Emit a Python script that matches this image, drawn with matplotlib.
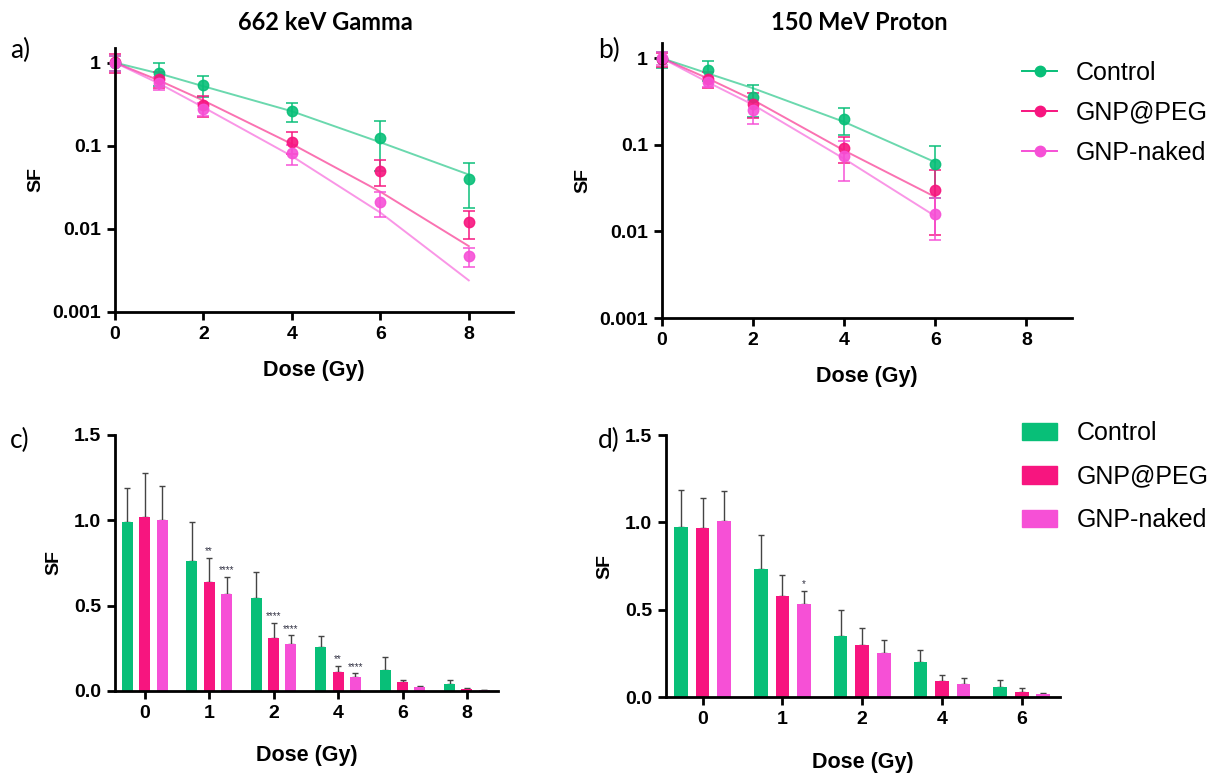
import numpy as np
import matplotlib
matplotlib.use("Agg")
import matplotlib.pyplot as plt
from matplotlib.lines import Line2D
from matplotlib.patches import Patch

# survival fraction data (mean, SD)
series = ["Control", "GNP@PEG", "GNP-naked"]
colors = ["#08BF78", "#F7157F", "#F650D6"]

doses_g = [0, 1, 2, 4, 6, 8]
ctrl_g = [0.99, 0.76, 0.545, 0.26, 0.125, 0.04]
ctrl_g_sd = [0.20, 0.23, 0.155, 0.065, 0.075, 0.022]
peg_g = [1.02, 0.64, 0.31, 0.112, 0.05, 0.012]
peg_g_sd = [0.26, 0.14, 0.09, 0.033, 0.017, 0.0045]
naked_g = [1.0, 0.57, 0.276, 0.081, 0.021, 0.0047]
naked_g_sd = [0.20, 0.10, 0.05, 0.022, 0.007, 0.0012]

doses_p = [0, 1, 2, 4, 6]
ctrl_p = [0.975, 0.735, 0.352, 0.2, 0.06]
ctrl_p_sd = [0.21, 0.195, 0.144, 0.069, 0.036]
peg_p = [0.97, 0.578, 0.30, 0.093, 0.03]
peg_p_sd = [0.17, 0.12, 0.094, 0.031, 0.021]
naked_p = [1.01, 0.535, 0.25, 0.074, 0.016]
naked_p_sd = [0.17, 0.073, 0.075, 0.036, 0.008]

# fitted curves (values read at the dose points)
ctrl_fit_g = [1, 0.74, 0.52, 0.26, 0.11, 0.045]
peg_fit_g = [1, 0.61, 0.35, 0.105, 0.028, 0.0062]
naked_fit_g = [1, 0.56, 0.29, 0.075, 0.0157, 0.0024]
ctrl_fit_p = [1, 0.67, 0.45, 0.184, 0.063]
peg_fit_p = [1, 0.586, 0.33, 0.086, 0.025]
naked_fit_p = [1, 0.53, 0.29, 0.069, 0.015]

# significance marks: (dose index, series index, text)
stars_g = [(1, 1, "**"), (1, 2, "****"), (2, 1, "****"), (2, 2, "****"),
           (3, 1, "**"), (3, 2, "****")]
stars_p = [(1, 2, "*")]

plt.rcParams['font.family'] = ['Liberation Sans', 'DejaVu Sans']
fig = plt.figure(figsize=(12.27, 7.73), dpi=100)

ax_a = fig.add_axes([0.0937, 0.5964, 0.3244, 0.3415])
ax_b = fig.add_axes([0.5395, 0.5886, 0.3341, 0.3558])
ax_c = fig.add_axes([0.0937, 0.1061, 0.3121, 0.3312])
ax_d = fig.add_axes([0.5428, 0.0983, 0.3211, 0.3389])


def style(ax):
    for s in ["top", "right"]:
        ax.spines[s].set_visible(False)
    for s in ["left", "bottom"]:
        ax.spines[s].set_linewidth(2.0)
    ax.tick_params(width=2.0, length=6, labelsize=14, pad=4)
    for lab in ax.get_xticklabels() + ax.get_yticklabels():
        lab.set_fontweight("bold")


def curve_panel(ax, doses, means, sds, fits):
    for m, sd, f, c in zip(means, sds, fits, colors):
        ax.plot(doses, f, color=c, lw=1.4, alpha=0.6, clip_on=False)
        ax.errorbar(doses, m, yerr=sd, fmt="o", color=c, ms=7.5,
                    ecolor=c, elinewidth=1.2, capsize=4, capthick=1.2,
                    alpha=0.9, clip_on=False)
    ax.set_yscale("log")
    ax.set_ylim(0.001, 1.5)
    ax.set_xlim(0, 9)
    ax.set_yticks([1, 0.1, 0.01, 0.001])
    ax.set_yticklabels(["1", "0.1", "0.01", "0.001"])
    ax.yaxis.set_minor_locator(matplotlib.ticker.NullLocator())
    ax.set_xticks([0, 2, 4, 6, 8])
    ax.set_ylabel("SF", fontsize=14, fontweight="bold", labelpad=6)
    ax.set_xlabel("Dose (Gy)", fontsize=15.5, fontweight="bold", labelpad=12)
    style(ax)


def bar_panel(ax, doses, means, sds, stars):
    x = np.arange(len(doses))
    w = 0.17
    offs = [-0.27, 0.0, 0.27]
    for m, sd, c, o in zip(means, sds, colors, offs):
        ax.bar(x + o, m, width=w, color=c, zorder=2)
        ax.errorbar(x + o, m, yerr=[np.zeros(len(m)), sd], fmt="none",
                    ecolor="#444444", elinewidth=1.0, capsize=2.5,
                    capthick=1.0, zorder=1)
    for i, j, t in stars:
        top = means[j][i] + sds[j][i]
        ax.text(x[i] + offs[j], top + 0.01, t, ha="center", va="bottom",
                fontsize=7, color="#333344")
    ax.set_xlim(-0.46, len(doses) - 1 + 0.48)
    ax.set_ylim(0, 1.5)
    ax.set_yticks([0, 0.5, 1.0, 1.5])
    ax.yaxis.set_major_formatter(matplotlib.ticker.FormatStrFormatter("%.1f"))
    ax.set_xticks(x)
    ax.set_xticklabels([str(d) for d in doses])
    ax.set_ylabel("SF", fontsize=14, fontweight="bold", labelpad=8)
    ax.set_xlabel("Dose (Gy)", fontsize=15.5, fontweight="bold", labelpad=17)
    style(ax)


curve_panel(ax_a, doses_g, [ctrl_g, peg_g, naked_g],
            [ctrl_g_sd, peg_g_sd, naked_g_sd],
            [ctrl_fit_g, peg_fit_g, naked_fit_g])
curve_panel(ax_b, doses_p, [ctrl_p, peg_p, naked_p],
            [ctrl_p_sd, peg_p_sd, naked_p_sd],
            [ctrl_fit_p, peg_fit_p, naked_fit_p])
bar_panel(ax_c, doses_g, [ctrl_g, peg_g, naked_g],
          [ctrl_g_sd, peg_g_sd, naked_g_sd], stars_g)
bar_panel(ax_d, doses_p, [ctrl_p, peg_p, naked_p],
          [ctrl_p_sd, peg_p_sd, naked_p_sd], stars_p)

# titles and panel letters
fig.text(325 / 1227, 1 - 23 / 773, "662 keV Gamma", ha="center", va="center",
         fontsize=17, fontweight="bold", family="Lato")
fig.text(859 / 1227, 1 - 23 / 773, "150 MeV Proton", ha="center", va="center",
         fontsize=17, fontweight="bold", family="Lato")
for lx, ly, t in [(10, 50, "a)"), (598, 50, "b)"), (10, 440, "c)"), (598, 440, "d)")]:
    fig.text(lx / 1227, 1 - ly / 773, t, ha="left", va="center",
             fontsize=19, family="Lato")

# legends
line_handles = [Line2D([], [], color=c, marker="o", ms=7.5, lw=1.4) for c in colors]
fig.legend(line_handles, series, loc="upper left",
           bbox_to_anchor=(1022 / 1227, 1 - 61 / 773), frameon=False,
           fontsize=18, handlelength=1.4, handletextpad=0.75,
           labelspacing=0.63, borderpad=0, borderaxespad=0)
bar_handles = [Patch(color=c) for c in colors]
fig.legend(bar_handles, series, loc="upper left",
           bbox_to_anchor=(1022 / 1227, 1 - 421 / 773), frameon=False,
           fontsize=18, handlelength=1.4, handleheight=0.7, handletextpad=0.8,
           labelspacing=0.78, borderpad=0, borderaxespad=0)

fig.savefig("out.png", dpi=100)
